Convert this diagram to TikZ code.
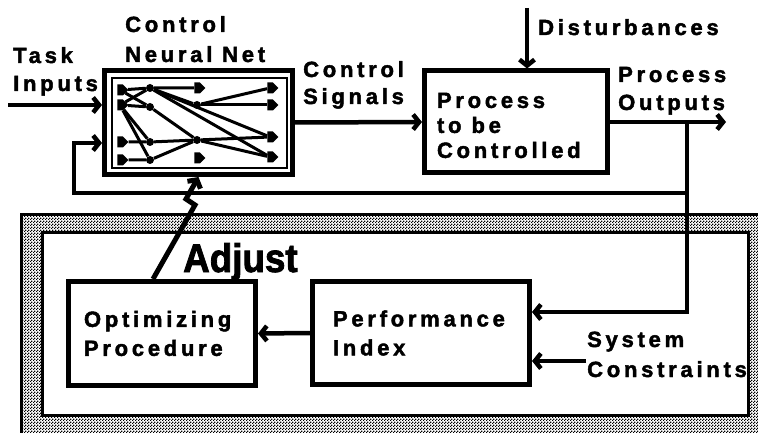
\documentclass[tikz,border=0pt]{standalone}
\usepackage{fontspec}
\setmainfont{Liberation Sans}[LetterSpace=17,FakeBold=2]
\newfontfamily\adjfont{Liberation Sans}[FakeStretch=0.92,FakeBold=2]
\usetikzlibrary{arrows.meta,patterns,shapes.symbols,positioning}
\pgfdeclarepatternformonly{checker}{\pgfpointorigin}{\pgfpoint{3pt}{3pt}}{\pgfpoint{3pt}{3pt}}{%
	\pgfpathrectangle{\pgfpointorigin}{\pgfpoint{1.5pt}{1.5pt}}%
	\pgfpathrectangle{\pgfpoint{1.5pt}{1.5pt}}{\pgfpoint{1.5pt}{1.5pt}}%
	\pgfusepath{fill}}

\begin{document}
\begin{tikzpicture}[x=1pt,y=-1pt,
	box/.style={draw,line width=5pt,inner sep=0pt,align=left,font=\bfseries\fontsize{22}{29}\selectfont},
	lbl/.style={anchor=base west,align=left,inner sep=0pt,font=\bfseries\fontsize{22}{28}\selectfont},
	conn/.style={line width=4.5pt},
	arr/.style={-{Straight Barb[length=6pt,width=15pt]}},
	unit/.style={signal,signal to=east,fill=black,minimum width=11pt,minimum height=11pt,inner sep=0pt},
	knot/.style={circle,fill=black,minimum size=8pt,inner sep=0pt},
	link/.style={line width=3pt}]
	\useasboundingbox (0,0) rectangle (758,433);
	%% hatched frame
	\fill[pattern=checker,even odd rule] (20,213) rectangle (770,445) (42,232) rectangle (748,415);
	\draw[line width=2.5pt] (21.25,214.25) rectangle (770,445);
	\draw[line width=3pt] (42,232) rectangle (748,415);
	%% blocks
	\node[box,minimum width=188pt,minimum height=104pt] (net) at (198.5,122.5) {};
	\draw[line width=2.5pt] (112,78) rectangle (287,168); % inner frame
	\node[box,minimum width=183pt,minimum height=102pt,text width=158pt,
		font=\bfseries\fontsize{22}{25}\selectfont] (proc) at (516,122) {\rule{0pt}{22pt}Process\\to\hspace{10pt}be\\Controlled};
	\node[box,minimum width=187pt,minimum height=104pt,text width=156pt] (opt) at (162,333.5) {Optimizing\\Procedure};
	\node[box,minimum width=217pt,minimum height=103pt,text width=176pt] (perf) at (421,333) {Performance\\Index};
	%% the small net
	\node[unit] (i1) at (120,90) {};
	\node[unit] (i2) at (120,105) {};
	\node[unit] (i3) at (120,142) {};
	\node[unit] (i4) at (120,160) {};
	\node[knot] (a1) at (150,88) {};
	\node[knot] (a2) at (150,107) {};
	\node[knot] (a3) at (150,142) {};
	\node[knot] (a4) at (150,160) {};
	\node[unit] (b1) at (197,88) {};
	\node[knot] (b2) at (197,105) {};
	\node[knot] (b3) at (197,140) {};
	\node[unit] (b4) at (197,158) {};
	\node[unit] (o1) at (270,88) {};
	\node[unit] (o2) at (270,105) {};
	\node[unit] (o3) at (270,137) {};
	\node[unit] (o4) at (270,157) {};
	\draw[link] (i1) -- (a1) -- (b1);
	\draw[link] (i2) -- (a2);
	\draw[link] (i1) -- (a2);
	\draw[link] (i2) -- (a1);
	\draw[link] (i2) -- (a3);
	\draw[link] (i2) -- (a4);
	\draw[link] (i3) -- (a3) -- (b3);
	\draw[link] (i4) -- (a4) -- (b3);
	\draw[link] (a1) -- (b2);
	\draw[link] (b2) -- (o1);
	\draw[link] (b2) -- (o2);
	\draw[link] (a1) -- (o3);
	\draw[link] (a1) -- (o4);
	\draw[link] (a2) -- (b3);
	\draw[link] (b3) -- (o3);
	\draw[link] (b3) -- (o4);
	%% labels (base = last line)
	\node[lbl] (tsk) at (13,91) {Task\\Inputs};
	\node[lbl,font=\bfseries\fontsize{22}{30}\selectfont] (cnn) at (125,62) {Control\\Neural Net};
	\node[lbl,font=\bfseries\fontsize{22}{27}\selectfont] (csig) at (303,104) {Control\\Signals};
	\node[lbl] (dst) at (538,35) {Disturbances};
	\node[lbl] (pout) at (618,110) {Process\\Outputs};
	\node[lbl,font=\bfseries\fontsize{22}{30}\selectfont] (syc) at (587,377) {System\\Constraints};
	\node[anchor=base west,inner sep=0pt,font=\adjfont\bfseries\fontsize{40}{40}\selectfont] (adj) at (183,272) {Adjust};
	%% connectors
	\coordinate (tin) at (8,105);
	\draw[conn,arr] (tin) -- (net.west |- tin);
	\draw[conn,arr] (net.east) -- (proc.west);
	\coordinate (dst0) at (527,8);
	\draw[conn,arr] (dst0) -- (dst0 |- proc.north);
	\coordinate (tap) at (687,122);
	\coordinate (pend) at (726,122);
	\draw[conn,arr] (proc.east) -- (pend);
	\coordinate (fbl) at (74,193);
	\coordinate (fbrow) at (0,143);
	\draw[conn,arr] (tap) |- (fbl) |- (net.west |- fbrow); % feedback
	\coordinate (prow) at (0,312);
	\draw[conn,arr] (tap) |- (perf.east |- prow);
	\coordinate (cin) at (586,361);
	\draw[conn,arr] (cin) -- (perf.east |- cin);
	\draw[conn,arr] (perf.west) -- (opt.east);
	%% adjust bolt
	\coordinate (bolt0) at (153,279);
	\coordinate (bolt1) at (195,205);
	\coordinate (bolt2) at (186,199);
	\draw[conn,arr,line width=5pt] (bolt0) -- (bolt1) -- (bolt2) -- (net.south);
\end{tikzpicture}
\end{document}
